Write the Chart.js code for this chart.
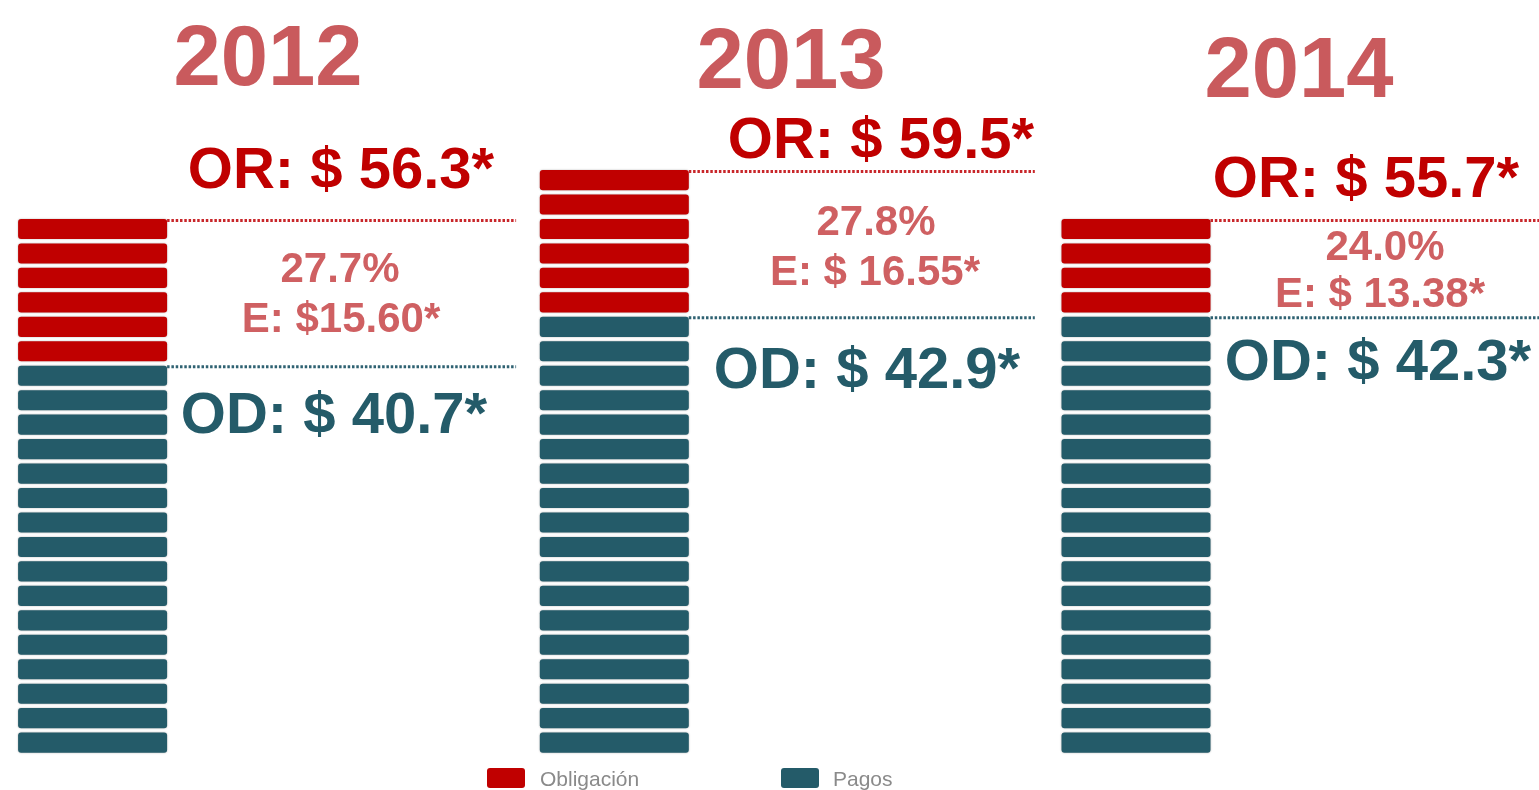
<!DOCTYPE html>
<html>
<head>
<meta charset="utf-8">
<script src="https://cdn.jsdelivr.net/npm/chart.js@4.4.1/dist/chart.umd.min.js"></script>
<style>
  html, body { margin: 0; padding: 0; background: #ffffff; }
  #wrap { width: 1539px; height: 790px; position: relative; }
</style>
</head>
<body>
<div id="wrap"><canvas id="c" width="1539" height="790"></canvas></div>
<script>
// ---- data ----
const categories = ['2012', '2013', '2014'];
// number of blocks drawn in each bar
const obligacionBloques = [6, 6, 4];
const pagosBloques = [16, 18, 18];
// amounts shown next to the bars
const orValores = ['56.3', '59.5', '55.7'];
const odValores = ['40.7', '42.9', '42.3'];
const eValores = ['$15.60', '$ 16.55', '$ 13.38'];
const porcentajes = ['27.7%', '27.8%', '24.0%'];
const legendLabels = ['Obligación', 'Pagos'];

// ---- styles / layout ----
const RED = '#C00000';
const TEAL = '#245B69';
const YEAR_COLOR = '#C95A5D';
const PCT_COLOR = '#CF6062';
const FONT = '"Liberation Sans", Arial, sans-serif';
const layoutText = [
  { yearX: 268, yearY: 85, orX: 341, orY: 188, pctX: 340, pctY: 282, eX: 341, eY: 332, odX: 334, odY: 433, lineLen: 349 },
  { yearX: 791, yearY: 88, orX: 881, orY: 158, pctX: 876, pctY: 235, eX: 875, eY: 285, odX: 867, odY: 388, lineLen: 346 },
  { yearX: 1299, yearY: 97, orX: 1366, orY: 197, pctX: 1385, pctY: 260, eX: 1380, eY: 307, odX: 1378, odY: 380, lineLen: 340 }
];

function rrect(ctx, x, y, w, h, r) {
  ctx.beginPath();
  ctx.moveTo(x + r, y);
  ctx.lineTo(x + w - r, y);
  ctx.quadraticCurveTo(x + w, y, x + w, y + r);
  ctx.lineTo(x + w, y + h - r);
  ctx.quadraticCurveTo(x + w, y + h, x + w - r, y + h);
  ctx.lineTo(x + r, y + h);
  ctx.quadraticCurveTo(x, y + h, x, y + h - r);
  ctx.lineTo(x, y + r);
  ctx.quadraticCurveTo(x, y, x + r, y);
  ctx.closePath();
}

const stripePlugin = {
  id: 'stripes',
  beforeDatasetsDraw(chart) {
    const ctx = chart.ctx;
    const yScale = chart.scales.y;
    const gap = 4.3;
    chart.data.datasets.forEach((ds, di) => {
      const meta = chart.getDatasetMeta(di);
      meta.data.forEach((el, j) => {
        const p = el.getProps(['x', 'width'], true);
        let start = 0;
        for (let k = 0; k < di; k++) start += chart.data.datasets[k].data[j];
        const end = start + ds.data[j];
        ctx.save();
        ctx.shadowColor = 'rgba(0,0,0,0.3)';
        ctx.shadowBlur = 2;
        ctx.fillStyle = ds.backgroundColor;
        for (let v = start; v < end; v++) {
          const yTop = yScale.getPixelForValue(v + 1);
          const yBot = yScale.getPixelForValue(v) - gap;
          rrect(ctx, p.x - p.width / 2, yTop, p.width, yBot - yTop, 3);
          ctx.fill();
        }
        ctx.restore();
      });
    });
    return false;
  },
  afterDraw(chart) {
    const ctx = chart.ctx;
    const yScale = chart.scales.y;
    const meta0 = chart.getDatasetMeta(0);
    categories.forEach((cat, j) => {
      const el = meta0.data[j];
      const p = el.getProps(['x', 'width'], true);
      const right = p.x + p.width / 2;
      const L = layoutText[j];
      const total = pagosBloques[j] + obligacionBloques[j];
      const yTopLine = yScale.getPixelForValue(total) + 1.5;
      const yMidLine = yScale.getPixelForValue(pagosBloques[j]) + 1;

      // dotted lines
      ctx.save();
      ctx.lineWidth = 3;
      ctx.setLineDash([2.5, 1.8]);
      ctx.strokeStyle = '#C8262A';
      ctx.beginPath(); ctx.moveTo(right, yTopLine); ctx.lineTo(Math.min(right + L.lineLen, 1539), yTopLine); ctx.stroke();
      ctx.strokeStyle = '#2F6272';
      ctx.beginPath(); ctx.moveTo(right, yMidLine); ctx.lineTo(Math.min(right + L.lineLen, 1539), yMidLine); ctx.stroke();
      ctx.restore();

      ctx.save();
      ctx.textAlign = 'center';
      ctx.textBaseline = 'alphabetic';
      // year
      ctx.fillStyle = YEAR_COLOR;
      ctx.font = 'bold 85px ' + FONT;
      ctx.fillText(cat, L.yearX, L.yearY);
      // OR
      ctx.fillStyle = RED;
      ctx.font = 'bold 58px ' + FONT;
      ctx.fillText('OR: $ ' + orValores[j] + '*', L.orX, L.orY);
      // pct + E
      ctx.fillStyle = PCT_COLOR;
      ctx.font = 'bold 42px ' + FONT;
      ctx.fillText(porcentajes[j], L.pctX, L.pctY);
      ctx.fillText('E: ' + eValores[j] + '*', L.eX, L.eY);
      // OD
      ctx.fillStyle = TEAL;
      ctx.font = 'bold 58px ' + FONT;
      ctx.fillText('OD: $ ' + odValores[j] + '*', L.odX, L.odY);
      ctx.restore();
    });

    // legend
    const items = [
      { text: legendLabels[0], color: RED, bx: 487, tx: 540 },
      { text: legendLabels[1], color: TEAL, bx: 781, tx: 833 }
    ];
    ctx.save();
    items.forEach(it => {
      ctx.fillStyle = it.color;
      rrect(ctx, it.bx, 768, 38, 20, 3);
      ctx.fill();
      ctx.fillStyle = '#8A8A8A';
      ctx.font = '21px ' + FONT;
      ctx.textAlign = 'left';
      ctx.textBaseline = 'alphabetic';
      ctx.fillText(it.text, it.tx, 786);
    });
    ctx.restore();
  }
};

new Chart(document.getElementById('c'), {
  type: 'bar',
  data: {
    labels: categories,
    datasets: [
      { label: legendLabels[1], data: pagosBloques, backgroundColor: TEAL },
      { label: legendLabels[0], data: obligacionBloques, backgroundColor: RED }
    ]
  },
  options: {
    responsive: false,
    animation: false,
    devicePixelRatio: 1,
    barThickness: 149,
    layout: { padding: { left: 92.6, right: 403, top: 170, bottom: 33 } },
    plugins: { legend: { display: false }, tooltip: { enabled: false } },
    scales: {
      x: { type: 'category', offset: false, stacked: true, display: false, grid: { display: false } },
      y: { stacked: true, min: 0, max: 24, display: false, grid: { display: false } }
    }
  },
  plugins: [stripePlugin]
});
</script>
</body>
</html>
